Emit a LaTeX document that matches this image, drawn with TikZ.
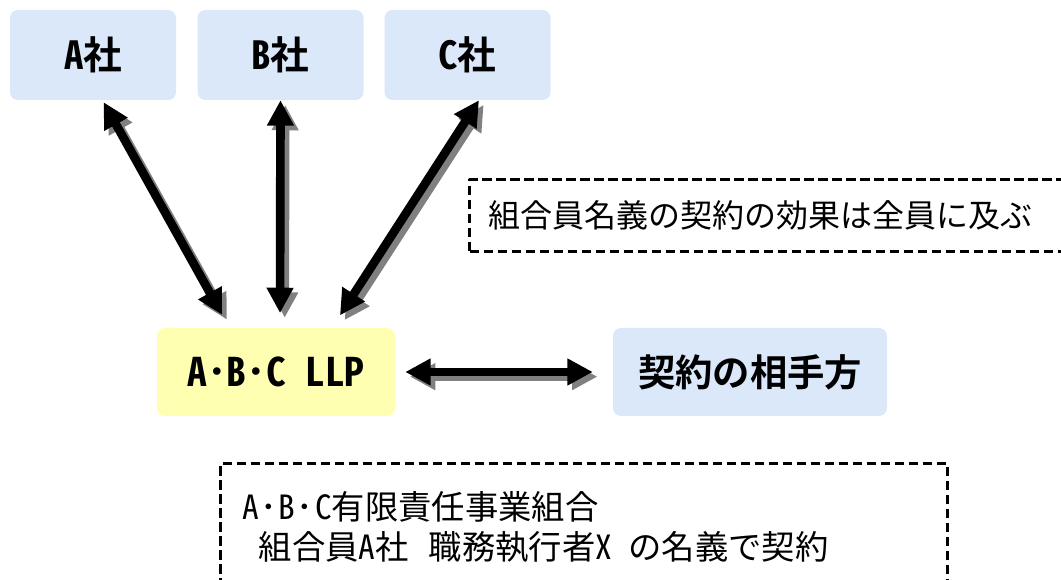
\documentclass[tikz,border=0pt]{standalone}
\usepackage{fontspec}
\usetikzlibrary{arrows.meta}
\newfontfamily\jpfont{Noto Sans Mono CJK JP}
\definecolor{firmblue}{RGB}{218,232,250}
\definecolor{llpyellow}{RGB}{255,255,178}

\begin{document}
\begin{tikzpicture}[x=0.75pt,y=-0.75pt,font=\jpfont,line join=round,
		firm/.style={fill=firmblue,rounded corners=6pt,minimum width=124.5pt,minimum height=67.5pt,font=\jpfont\bfseries\fontsize{29}{33}\selectfont},
		llp/.style={firm,fill=llpyellow,minimum width=178.5pt,minimum height=66pt,font=\jpfont\bfseries\fontsize{29.5}{33}\selectfont},
		memo/.style={draw,line width=2.5pt,dash pattern=on 7pt off 3.5pt,align=left,anchor=north west},
		dbl/.style={{Triangle[width=19pt,length=19pt]}-{Triangle[width=19pt,length=19pt]},line width=6.5pt},
		shade/.style={dbl,gray,transform canvas={shift={(3.5pt,-3.5pt)}}}]
	\useasboundingbox (0,0) rectangle (1061,580);
	\foreach \n/\x in {A/93,B/280.5,C/467.5}{
		\node[firm] (\n) at (\x,55) {\n{}社};}
	\node[llp] (llp) at (276,372) {A･B･C LLP};
	\node[firm,minimum width=205.5pt,minimum height=66pt,font=\jpfont\bfseries\fontsize{28}{32}\selectfont] (partner) at (750,372) {契約の相手方};
	% dashed notes
	\node[memo,minimum height=54pt,inner xsep=14pt,text width=431pt,font=\jpfont\fontsize{24}{28}\selectfont] (effect) at (468,178) {組合員名義の契約の効果は全員に及ぶ};
	\node[memo,minimum height=94.5pt,inner xsep=16pt,text width=513pt,font=\jpfont\fontsize{25}{30}\selectfont] (sign) at (219,462)
		{A\kern1.2pt･\kern1.2pt B\kern1.2pt･\kern1.2pt C有限責任事業組合\\\hspace*{0.5em}組合員A社\hspace{0.6em}職務執行者X\hspace{0.5em}の名義で契約};
	% arrows with shadow
	\foreach \s in {shade,dbl}{
		\draw[\s,shorten >=11pt] ([xshift=8pt,yshift=-1.5pt]A.south) -- ([xshift=-35pt]llp.north);
		\draw[\s,shorten >=11pt] (B.south) -- ([xshift=3pt]llp.north);
		\draw[\s,shorten >=11pt] ([xshift=8.6pt]C.south) -- ([xshift=42pt]llp.north);
		\draw[\s,shorten <=7.5pt,shorten >=15pt] (llp.east) -- (partner.west);}
\end{tikzpicture}
\end{document}
